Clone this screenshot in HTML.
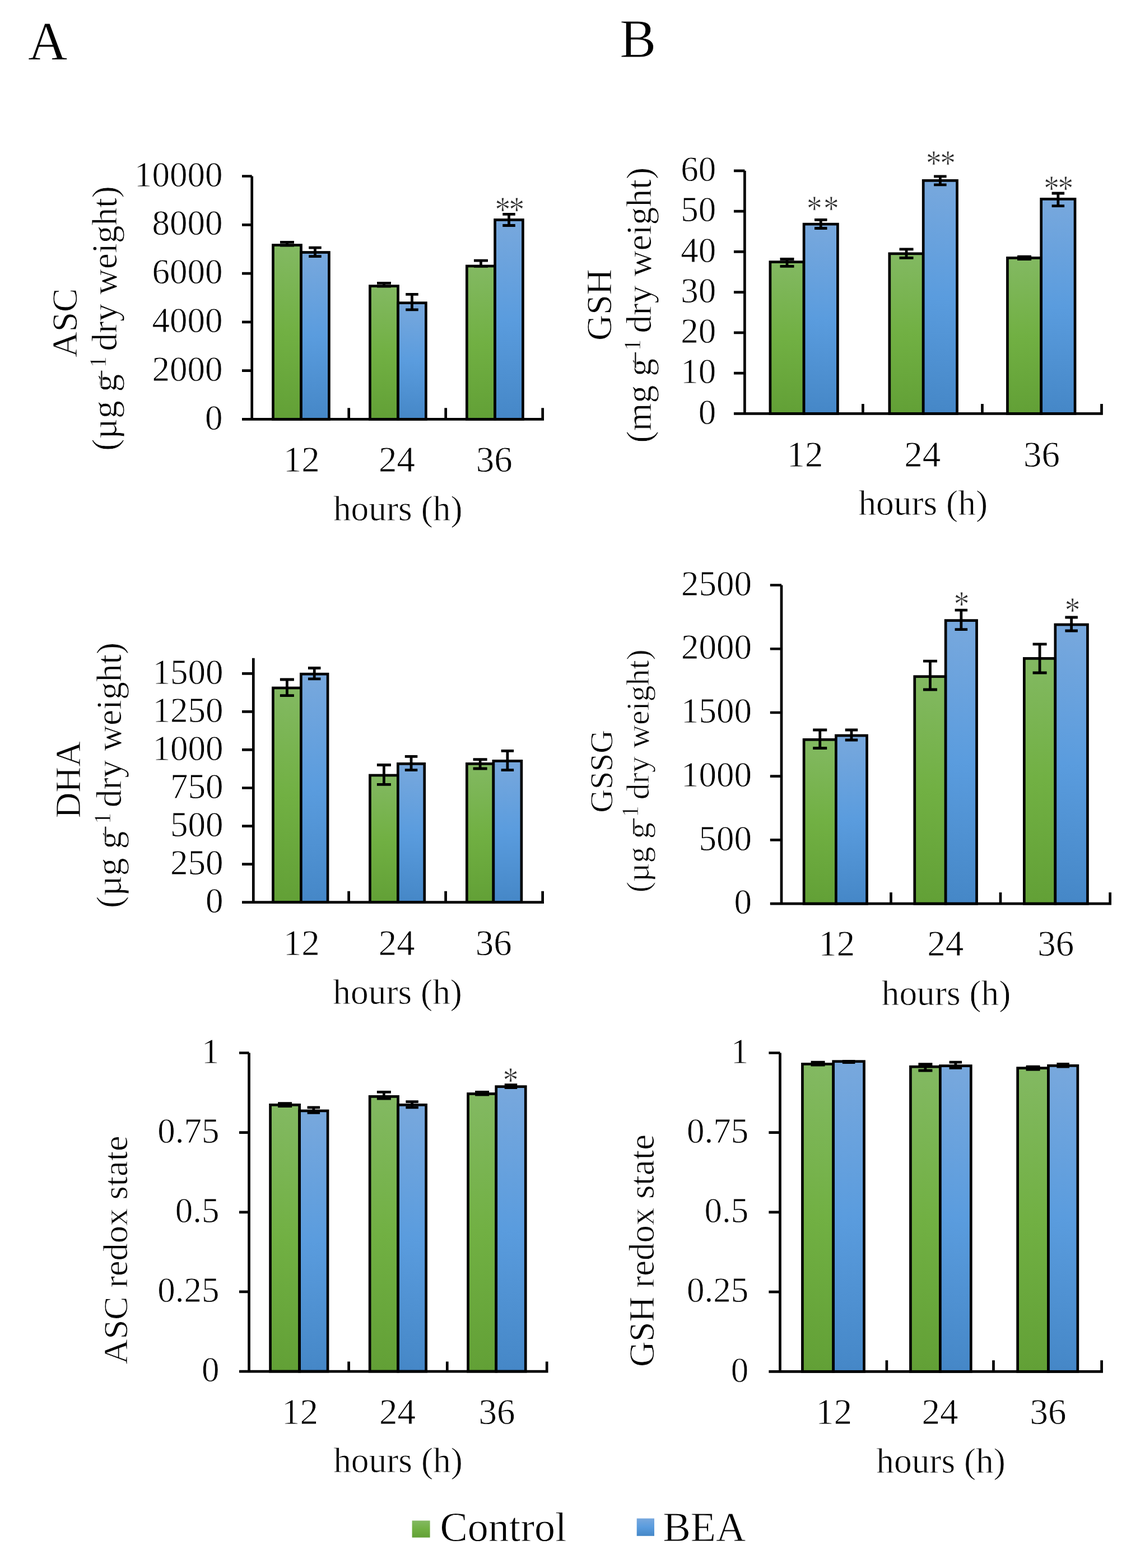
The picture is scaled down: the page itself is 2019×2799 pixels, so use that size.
<!DOCTYPE html><html><head><meta charset="utf-8"><title>Figure</title><style>html,body{margin:0;padding:0;background:#fff;}svg{display:block;}text{font-family:"Liberation Serif", "Times New Roman", serif;fill:#000;stroke:#fff;stroke-width:0.8px;}</style></head><body>
<svg width="2019" height="2799" viewBox="0 0 2019 2799">
<defs><linearGradient id="gg" x1="0" y1="0" x2="0" y2="1"><stop offset="0" stop-color="#83B962"/><stop offset="0.5" stop-color="#71B043"/><stop offset="1" stop-color="#62A036"/></linearGradient><linearGradient id="gb" x1="0" y1="0" x2="0" y2="1"><stop offset="0" stop-color="#78A8DD"/><stop offset="0.5" stop-color="#5A9CDE"/><stop offset="1" stop-color="#4587C7"/></linearGradient></defs>
<rect x="0" y="0" width="2019" height="2799" fill="#fff"/>
<rect x="487.45" y="437.55" width="50.05" height="310.9" fill="url(#gg)" stroke="#000" stroke-width="4.7"/>
<rect x="537.5" y="450.5" width="49.9" height="297.95" fill="url(#gb)" stroke="#000" stroke-width="4.7"/>
<path d="M512.48 432.35V438.05M499.98 432.35H524.98M499.98 438.05H524.98" stroke="#000" stroke-width="4.8" fill="none"/>
<path d="M562.45 442.2V457.55M551.2 442.2H573.7M551.2 457.55H573.7" stroke="#000" stroke-width="4.8" fill="none"/>
<rect x="660.45" y="510.6" width="50.1" height="237.85" fill="url(#gg)" stroke="#000" stroke-width="4.7"/>
<rect x="710.55" y="540.7" width="49.85" height="207.75" fill="url(#gb)" stroke="#000" stroke-width="4.7"/>
<path d="M685.5 505.35V511.1M673 505.35H698M673 511.1H698" stroke="#000" stroke-width="4.8" fill="none"/>
<path d="M735.47 525.35V552.85M724.22 525.35H746.72M724.22 552.85H746.72" stroke="#000" stroke-width="4.8" fill="none"/>
<rect x="833.35" y="474.95" width="50.25" height="273.5" fill="url(#gg)" stroke="#000" stroke-width="4.7"/>
<rect x="883.6" y="392.45" width="49.85" height="356" fill="url(#gb)" stroke="#000" stroke-width="4.7"/>
<path d="M858.48 465.1V475.45M845.98 465.1H870.98M845.98 475.45H870.98" stroke="#000" stroke-width="4.8" fill="none"/>
<path d="M908.53 382.4V402.5M897.28 382.4H919.78M897.28 402.5H919.78" stroke="#000" stroke-width="4.8" fill="none"/>
<path d="M449.7 314.5V748.45M432 661.66H449.7M432 574.87H449.7M432 488.08H449.7M432 401.29H449.7M432 314.5H449.7M432 748.45H971.05M622.7 750.8V728.15M795.7 750.8V728.15M968.7 750.8V728.15" stroke="#000" stroke-width="4.7" fill="none"/>
<text x="397.6" y="766.65" font-size="63" text-anchor="end">0</text>
<text x="397.6" y="679.86" font-size="63" text-anchor="end">2000</text>
<text x="397.6" y="593.07" font-size="63" text-anchor="end">4000</text>
<text x="397.6" y="506.28" font-size="63" text-anchor="end">6000</text>
<text x="397.6" y="419.49" font-size="63" text-anchor="end">8000</text>
<text x="397.6" y="332.7" font-size="63" text-anchor="end">10000</text>
<text x="538.28" y="841.5" font-size="65" text-anchor="middle">12</text>
<text x="708.59" y="841.5" font-size="65" text-anchor="middle">24</text>
<text x="882.15" y="841.5" font-size="65" text-anchor="middle">36</text>
<text x="710.25" y="928.8" font-size="63.4" text-anchor="middle">hours (h)</text>
<rect x="487.4" y="1228" width="49.95" height="382.7" fill="url(#gg)" stroke="#000" stroke-width="4.7"/>
<rect x="537.35" y="1203.2" width="47.7" height="407.5" fill="url(#gb)" stroke="#000" stroke-width="4.7"/>
<path d="M512.38 1213V1241.6M499.88 1213H524.88M499.88 1241.6H524.88" stroke="#000" stroke-width="4.8" fill="none"/>
<path d="M561.2 1192.5V1211.8M549.95 1192.5H572.45M549.95 1211.8H572.45" stroke="#000" stroke-width="4.8" fill="none"/>
<rect x="660.45" y="1384" width="49.9" height="226.7" fill="url(#gg)" stroke="#000" stroke-width="4.7"/>
<rect x="710.35" y="1363.4" width="47.4" height="247.3" fill="url(#gb)" stroke="#000" stroke-width="4.7"/>
<path d="M685.4 1365.5V1400.4M672.9 1365.5H697.9M672.9 1400.4H697.9" stroke="#000" stroke-width="4.8" fill="none"/>
<path d="M734.05 1350.3V1374.6M722.8 1350.3H745.3M722.8 1374.6H745.3" stroke="#000" stroke-width="4.8" fill="none"/>
<rect x="833.35" y="1363.4" width="47.55" height="247.3" fill="url(#gg)" stroke="#000" stroke-width="4.7"/>
<rect x="880.9" y="1358.4" width="50" height="252.3" fill="url(#gb)" stroke="#000" stroke-width="4.7"/>
<path d="M857.12 1355.6V1372M844.62 1355.6H869.62M844.62 1372H869.62" stroke="#000" stroke-width="4.8" fill="none"/>
<path d="M905.9 1340.4V1374.6M894.65 1340.4H917.15M894.65 1374.6H917.15" stroke="#000" stroke-width="4.8" fill="none"/>
<path d="M452.3 1174.7V1610.7M432 1542.63H452.3M432 1474.57H452.3M432 1406.5H452.3M432 1338.43H452.3M432 1270.37H452.3M432 1202.3H452.3M432 1610.7H971M622.6 1613.05V1590.8M795.6 1613.05V1590.8M968.65 1613.05V1590.8" stroke="#000" stroke-width="4.7" fill="none"/>
<text x="398.6" y="1628.9" font-size="63" text-anchor="end">0</text>
<text x="398.6" y="1560.83" font-size="63" text-anchor="end">250</text>
<text x="398.6" y="1492.77" font-size="63" text-anchor="end">500</text>
<text x="398.6" y="1424.7" font-size="63" text-anchor="end">750</text>
<text x="398.6" y="1356.63" font-size="63" text-anchor="end">1000</text>
<text x="398.6" y="1288.57" font-size="63" text-anchor="end">1250</text>
<text x="398.6" y="1220.5" font-size="63" text-anchor="end">1500</text>
<text x="538.28" y="1704.5" font-size="65" text-anchor="middle">12</text>
<text x="708.19" y="1704.5" font-size="65" text-anchor="middle">24</text>
<text x="881.3" y="1704.5" font-size="65" text-anchor="middle">36</text>
<text x="709.65" y="1791.7" font-size="63.4" text-anchor="middle">hours (h)</text>
<rect x="482.55" y="1972.3" width="52.1" height="475.8" fill="url(#gg)" stroke="#000" stroke-width="4.7"/>
<rect x="534.65" y="1982.9" width="50.4" height="465.2" fill="url(#gb)" stroke="#000" stroke-width="4.7"/>
<path d="M508.6 1969.6V1974.6M496.1 1969.6H521.1M496.1 1974.6H521.1" stroke="#000" stroke-width="4.8" fill="none"/>
<path d="M559.85 1976.9V1986.4M548.6 1976.9H571.1M548.6 1986.4H571.1" stroke="#000" stroke-width="4.8" fill="none"/>
<rect x="660.15" y="1957.4" width="50.45" height="490.7" fill="url(#gg)" stroke="#000" stroke-width="4.7"/>
<rect x="710.6" y="1972.3" width="50.05" height="475.8" fill="url(#gb)" stroke="#000" stroke-width="4.7"/>
<path d="M685.38 1949.3V1961M672.88 1949.3H697.88M672.88 1961H697.88" stroke="#000" stroke-width="4.8" fill="none"/>
<path d="M735.62 1966.7V1976.8M724.38 1966.7H746.88M724.38 1976.8H746.88" stroke="#000" stroke-width="4.8" fill="none"/>
<rect x="835.55" y="1952.5" width="50.2" height="495.6" fill="url(#gg)" stroke="#000" stroke-width="4.7"/>
<rect x="885.75" y="1939.7" width="52.5" height="508.4" fill="url(#gb)" stroke="#000" stroke-width="4.7"/>
<path d="M860.65 1949.3V1954.1M848.15 1949.3H873.15M848.15 1954.1H873.15" stroke="#000" stroke-width="4.8" fill="none"/>
<path d="M912 1936.7V1941.5M900.75 1936.7H923.25M900.75 1941.5H923.25" stroke="#000" stroke-width="4.8" fill="none"/>
<path d="M444.55 1879.5V2448.1M427 2305.95H444.55M427 2163.8H444.55M427 2021.65H444.55M427 1879.5H444.55M427 2448.1H978.55M622.6 2450.45V2430.4M798.3 2450.45V2430.4M976.2 2450.45V2430.4" stroke="#000" stroke-width="4.7" fill="none"/>
<text x="391.4" y="2466.3" font-size="63" text-anchor="end">0</text>
<text x="391.4" y="2324.15" font-size="63" text-anchor="end">0.25</text>
<text x="391.4" y="2182" font-size="63" text-anchor="end">0.5</text>
<text x="391.4" y="2039.85" font-size="63" text-anchor="end">0.75</text>
<text x="391.4" y="1897.7" font-size="63" text-anchor="end">1</text>
<text x="535.43" y="2541.7" font-size="65" text-anchor="middle">12</text>
<text x="709.59" y="2541.7" font-size="65" text-anchor="middle">24</text>
<text x="887.05" y="2541.7" font-size="65" text-anchor="middle">36</text>
<text x="710.5" y="2628.3" font-size="63.4" text-anchor="middle">hours (h)</text>
<rect x="1374.9" y="467.6" width="60.2" height="270.7" fill="url(#gg)" stroke="#000" stroke-width="4.7"/>
<rect x="1435.1" y="400.1" width="60.3" height="338.2" fill="url(#gb)" stroke="#000" stroke-width="4.7"/>
<path d="M1405 462.5V475.4M1392.5 462.5H1417.5M1392.5 475.4H1417.5" stroke="#000" stroke-width="4.8" fill="none"/>
<path d="M1465.25 392.4V407.5M1454 392.4H1476.5M1454 407.5H1476.5" stroke="#000" stroke-width="4.8" fill="none"/>
<rect x="1587.85" y="452.8" width="60.35" height="285.5" fill="url(#gg)" stroke="#000" stroke-width="4.7"/>
<rect x="1648.2" y="322.3" width="60.35" height="416" fill="url(#gb)" stroke="#000" stroke-width="4.7"/>
<path d="M1618.03 444.9V460.3M1605.53 444.9H1630.53M1605.53 460.3H1630.53" stroke="#000" stroke-width="4.8" fill="none"/>
<path d="M1678.38 314.8V329.9M1667.12 314.8H1689.62M1667.12 329.9H1689.62" stroke="#000" stroke-width="4.8" fill="none"/>
<rect x="1798.45" y="460.4" width="60.25" height="277.9" fill="url(#gg)" stroke="#000" stroke-width="4.7"/>
<rect x="1858.7" y="355.3" width="60.35" height="383" fill="url(#gb)" stroke="#000" stroke-width="4.7"/>
<path d="M1828.58 458.2V462.6M1816.08 458.2H1841.08M1816.08 462.6H1841.08" stroke="#000" stroke-width="4.8" fill="none"/>
<path d="M1888.88 345V367.6M1877.62 345H1900.12M1877.62 367.6H1900.12" stroke="#000" stroke-width="4.8" fill="none"/>
<path d="M1329.4 304.8V738.3M1310 666.05H1329.4M1310 593.8H1329.4M1310 521.55H1329.4M1310 449.3H1329.4M1310 377.05H1329.4M1310 304.8H1329.4M1310 738.3H1968.85M1540.4 740.65V721M1753.5 740.65V721M1966.5 740.65V721" stroke="#000" stroke-width="4.7" fill="none"/>
<text x="1278.2" y="756.5" font-size="63" text-anchor="end">0</text>
<text x="1278.2" y="684.25" font-size="63" text-anchor="end">10</text>
<text x="1278.2" y="612" font-size="63" text-anchor="end">20</text>
<text x="1278.2" y="539.75" font-size="63" text-anchor="end">30</text>
<text x="1278.2" y="467.5" font-size="63" text-anchor="end">40</text>
<text x="1278.2" y="395.25" font-size="63" text-anchor="end">50</text>
<text x="1278.2" y="323" font-size="63" text-anchor="end">60</text>
<text x="1436.88" y="832.7" font-size="65" text-anchor="middle">12</text>
<text x="1646.74" y="832.7" font-size="65" text-anchor="middle">24</text>
<text x="1859.4" y="832.7" font-size="65" text-anchor="middle">36</text>
<text x="1647.7" y="918.8" font-size="63.4" text-anchor="middle">hours (h)</text>
<rect x="1435.1" y="1320.3" width="57.3" height="292.9" fill="url(#gg)" stroke="#000" stroke-width="4.7"/>
<rect x="1492.4" y="1313" width="55.15" height="300.2" fill="url(#gb)" stroke="#000" stroke-width="4.7"/>
<path d="M1463.75 1303V1335.5M1451.25 1303H1476.25M1451.25 1335.5H1476.25" stroke="#000" stroke-width="4.8" fill="none"/>
<path d="M1519.97 1303V1321M1508.72 1303H1531.22M1508.72 1321H1531.22" stroke="#000" stroke-width="4.8" fill="none"/>
<rect x="1632.75" y="1207.7" width="55.4" height="405.5" fill="url(#gg)" stroke="#000" stroke-width="4.7"/>
<rect x="1688.15" y="1107.6" width="55.4" height="505.6" fill="url(#gb)" stroke="#000" stroke-width="4.7"/>
<path d="M1660.45 1180.2V1231M1647.95 1180.2H1672.95M1647.95 1231H1672.95" stroke="#000" stroke-width="4.8" fill="none"/>
<path d="M1715.85 1089.2V1123.7M1704.6 1089.2H1727.1M1704.6 1123.7H1727.1" stroke="#000" stroke-width="4.8" fill="none"/>
<rect x="1828.35" y="1175.4" width="55.5" height="437.8" fill="url(#gg)" stroke="#000" stroke-width="4.7"/>
<rect x="1883.85" y="1115" width="57.6" height="498.2" fill="url(#gb)" stroke="#000" stroke-width="4.7"/>
<path d="M1856.1 1149.8V1201M1843.6 1149.8H1868.6M1843.6 1201H1868.6" stroke="#000" stroke-width="4.8" fill="none"/>
<path d="M1912.65 1102V1126M1901.4 1102H1923.9M1901.4 1126H1923.9" stroke="#000" stroke-width="4.8" fill="none"/>
<path d="M1395 1044.5V1613.2M1374.8 1499.46H1395M1374.8 1385.72H1395M1374.8 1271.98H1395M1374.8 1158.24H1395M1374.8 1044.5H1395M1374.8 1613.2H1984M1590.5 1615.55V1593M1786 1615.55V1593M1981.65 1615.55V1593" stroke="#000" stroke-width="4.7" fill="none"/>
<text x="1341.9" y="1631.4" font-size="63" text-anchor="end">0</text>
<text x="1341.9" y="1517.66" font-size="63" text-anchor="end">500</text>
<text x="1341.9" y="1403.92" font-size="63" text-anchor="end">1000</text>
<text x="1341.9" y="1290.18" font-size="63" text-anchor="end">1500</text>
<text x="1341.9" y="1176.44" font-size="63" text-anchor="end">2000</text>
<text x="1341.9" y="1062.7" font-size="63" text-anchor="end">2500</text>
<text x="1493.73" y="1706.3" font-size="65" text-anchor="middle">12</text>
<text x="1687.79" y="1706.3" font-size="65" text-anchor="middle">24</text>
<text x="1884.7" y="1706.3" font-size="65" text-anchor="middle">36</text>
<text x="1689.05" y="1793.7" font-size="63.4" text-anchor="middle">hours (h)</text>
<rect x="1432.45" y="1899.4" width="55.25" height="548.9" fill="url(#gg)" stroke="#000" stroke-width="4.7"/>
<rect x="1487.7" y="1894.7" width="54.85" height="553.6" fill="url(#gb)" stroke="#000" stroke-width="4.7"/>
<path d="M1460.08 1896.2V1901M1447.58 1896.2H1472.58M1447.58 1901H1472.58" stroke="#000" stroke-width="4.8" fill="none"/>
<path d="M1515.12 1894.5V1896.5M1503.88 1894.5H1526.38M1503.88 1896.5H1526.38" stroke="#000" stroke-width="4.8" fill="none"/>
<rect x="1625.45" y="1904.2" width="52.95" height="544.1" fill="url(#gg)" stroke="#000" stroke-width="4.7"/>
<rect x="1678.4" y="1902.6" width="54.9" height="545.7" fill="url(#gb)" stroke="#000" stroke-width="4.7"/>
<path d="M1651.93 1899.6V1911M1639.43 1899.6H1664.43M1639.43 1911H1664.43" stroke="#000" stroke-width="4.8" fill="none"/>
<path d="M1705.85 1896.2V1906.4M1694.6 1896.2H1717.1M1694.6 1906.4H1717.1" stroke="#000" stroke-width="4.8" fill="none"/>
<rect x="1816.65" y="1906.6" width="54.85" height="541.7" fill="url(#gg)" stroke="#000" stroke-width="4.7"/>
<rect x="1871.5" y="1902.3" width="52.35" height="546" fill="url(#gb)" stroke="#000" stroke-width="4.7"/>
<path d="M1844.08 1904.2V1909M1831.58 1904.2H1856.58M1831.58 1909H1856.58" stroke="#000" stroke-width="4.8" fill="none"/>
<path d="M1897.67 1899.4V1904.2M1886.42 1899.4H1908.92M1886.42 1904.2H1908.92" stroke="#000" stroke-width="4.8" fill="none"/>
<path d="M1392.5 1879.5V2448.3M1372.4 2306.1H1392.5M1372.4 2163.9H1392.5M1372.4 2021.7H1392.5M1372.4 1879.5H1392.5M1372.4 2448.3H1968.95M1582.9 2450.65V2428.2M1773.5 2450.65V2428.2M1966.6 2450.65V2428.2" stroke="#000" stroke-width="4.7" fill="none"/>
<text x="1336.2" y="2466.5" font-size="63" text-anchor="end">0</text>
<text x="1336.2" y="2324.3" font-size="63" text-anchor="end">0.25</text>
<text x="1336.2" y="2182.1" font-size="63" text-anchor="end">0.5</text>
<text x="1336.2" y="2039.9" font-size="63" text-anchor="end">0.75</text>
<text x="1336.2" y="1897.7" font-size="63" text-anchor="end">1</text>
<text x="1488.78" y="2541.9" font-size="65" text-anchor="middle">12</text>
<text x="1678.09" y="2541.9" font-size="65" text-anchor="middle">24</text>
<text x="1870.95" y="2541.9" font-size="65" text-anchor="middle">36</text>
<text x="1679.6" y="2629.2" font-size="63.4" text-anchor="middle">hours (h)</text>
<text transform="translate(136.6 638.12) rotate(-90)" font-size="63.5">ASC</text>
<text transform="translate(208.3 804.79) rotate(-90)" x="0" y="0" font-size="63.5">(µg g<tspan x="111.86" dy="-6.7" font-size="62">−</tspan><tspan x="148.34" dy="-12.3" font-size="41.5">1</tspan><tspan x="162.4" dy="19" font-size="63.5"> dry weight)</tspan></text>
<text transform="translate(143.1 1460.53) rotate(-90)" font-size="63.5">DHA</text>
<text transform="translate(215.5 1620.89) rotate(-90)" x="0" y="0" font-size="63.5">(µg g<tspan x="113.86" dy="-6.7" font-size="62">−</tspan><tspan x="149.74" dy="-12.3" font-size="41.5">1</tspan><tspan x="163.7" dy="19" font-size="63.5"> dry weight)</tspan></text>
<text transform="translate(227 2435.61) rotate(-90)" font-size="62.3">ASC redox state</text>
<text transform="translate(1090.8 607.92) rotate(-90)" font-size="63.8">GSH</text>
<text transform="translate(1161.8 790.41) rotate(-90)" x="0" y="0" font-size="63.8">(mg g<tspan x="130.28" dy="-6.7" font-size="62">−</tspan><tspan x="164.26" dy="-12.3" font-size="41.5">1</tspan><tspan x="179.86" dy="19" font-size="63.8"> dry weight)</tspan></text>
<text transform="translate(1093 1450.77) rotate(-90)" font-size="57.8">GSSG</text>
<text transform="translate(1158.4 1593.14) rotate(-90)" x="0" y="0" font-size="57.8">(µg g<tspan x="100.91" dy="-6.7" font-size="62">−</tspan><tspan x="134.29" dy="-12.3" font-size="41.5">1</tspan><tspan x="151.36" dy="19" font-size="57.8"> dry weight)</tspan></text>
<text transform="translate(1167 2440.07) rotate(-90)" font-size="62.8">GSH redox state</text>
<text transform="translate(883.39 396.21) scale(0.84 1)" font-size="66" style="fill:#2a2a2a" letter-spacing="-3">**</text>
<text transform="translate(1439.89 393.71) scale(0.84 1)" font-size="66" style="fill:#2a2a2a" letter-spacing="2.8">**</text>
<text transform="translate(1653.09 313.11) scale(0.84 1)" font-size="66" style="fill:#2a2a2a" letter-spacing="-3">**</text>
<text transform="translate(1863.29 358.21) scale(0.84 1)" font-size="66" style="fill:#2a2a2a" letter-spacing="-3">**</text>
<text transform="translate(1702.79 1100.31) scale(0.84 1)" font-size="66" style="fill:#2a2a2a" letter-spacing="-3">*</text>
<text transform="translate(1900.79 1111.31) scale(0.84 1)" font-size="66" style="fill:#2a2a2a" letter-spacing="-3">*</text>
<text transform="translate(897.69 1949.91) scale(0.84 1)" font-size="66" style="fill:#2a2a2a" letter-spacing="-3">*</text>
<text x="50.04" y="106.4" font-size="97.5">A</text>
<text x="1106.29" y="101.7" font-size="97.5">B</text>
<rect x="735.6" y="2714.4" width="32" height="30.2" fill="url(#gg)"/>
<text x="785.47" y="2751.2" font-size="74">Control</text>
<rect x="1136.7" y="2710.5" width="31.3" height="31.3" fill="url(#gb)"/>
<text x="1183.47" y="2751.2" font-size="74">BEA</text>
</svg></body></html>
